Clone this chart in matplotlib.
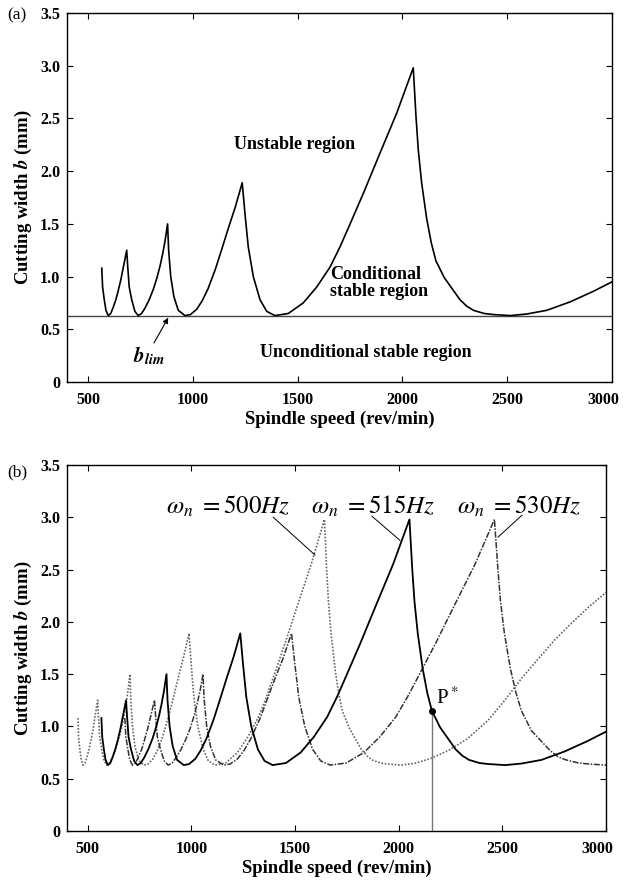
import matplotlib
matplotlib.use("Agg")
import matplotlib.pyplot as plt
import matplotlib.transforms as mtransforms
from matplotlib.ticker import FuncFormatter

plt.rcParams['font.family'] = ['Liberation Serif', 'DejaVu Serif']
plt.rcParams['mathtext.fontset'] = 'stix'

# 515 Hz lobes (spindle speed rev/min, cutting width mm)
speed_515 = [566, 570, 578, 586, 597, 609, 621, 633, 645, 657, 669, 685,
             690, 697, 709, 724, 740, 756, 772, 792, 812, 828, 844, 856, 868, 880,
             885, 895, 910, 931, 963, 989, 1019, 1045, 1072, 1091, 1108, 1137, 1170, 1203, 1236,
             1249, 1265, 1289, 1321, 1353, 1392, 1456, 1527, 1591, 1655, 1702, 1742, 1814, 1893, 1973, 2052,
             2065, 2076, 2092, 2116, 2138, 2160, 2200, 2243, 2275, 2307, 2339, 2390, 2434, 2514,
             2593, 2689, 2800, 2911, 3000]
width_515 = [1.08, 0.90, 0.78, 0.68, 0.63, 0.65, 0.71, 0.78, 0.87, 0.97, 1.09, 1.25,
             1.09, 0.90, 0.78, 0.67, 0.63, 0.65, 0.70, 0.78, 0.88, 0.98, 1.10, 1.21, 1.34, 1.50,
             1.25, 1.00, 0.81, 0.68, 0.63, 0.64, 0.69, 0.77, 0.88, 0.98, 1.07, 1.25, 1.46, 1.66, 1.89,
             1.60, 1.28, 1.00, 0.78, 0.67, 0.63, 0.65, 0.75, 0.90, 1.09, 1.28, 1.46, 1.79, 2.17, 2.55, 2.98,
             2.52, 2.20, 1.89, 1.55, 1.32, 1.15, 0.99, 0.87, 0.78, 0.72, 0.68, 0.65, 0.64, 0.63,
             0.645, 0.68, 0.76, 0.86, 0.95]

# 500 Hz lobes
speed_500 = [453, 456, 462, 469, 478, 487, 497, 506, 516, 526, 535, 548,
             552, 558, 567, 579, 592, 605, 618, 634, 650, 662, 675, 685, 694, 704,
             708, 716, 728, 745, 770, 791, 815, 836, 858, 873, 886, 910, 936, 962, 989,
             999, 1012, 1031, 1057, 1082, 1114, 1165, 1222, 1273, 1324, 1362, 1394, 1451, 1514, 1578, 1642,
             1652, 1661, 1674, 1693, 1710, 1728, 1760, 1794, 1820, 1846, 1871, 1912, 1947, 2011,
             2074, 2151, 2240, 2330, 2432, 2512, 2593, 2675, 2754, 2835, 2915, 3000]
width_500 = [1.08, 0.90, 0.78, 0.68, 0.63, 0.65, 0.71, 0.78, 0.87, 0.97, 1.09, 1.25,
             1.09, 0.90, 0.78, 0.67, 0.63, 0.65, 0.70, 0.78, 0.88, 0.98, 1.10, 1.21, 1.34, 1.50,
             1.25, 1.00, 0.81, 0.68, 0.63, 0.64, 0.69, 0.77, 0.88, 0.98, 1.07, 1.25, 1.46, 1.66, 1.89,
             1.60, 1.28, 1.00, 0.78, 0.67, 0.63, 0.65, 0.75, 0.90, 1.09, 1.28, 1.46, 1.79, 2.17, 2.55, 2.98,
             2.52, 2.20, 1.89, 1.55, 1.32, 1.15, 0.99, 0.87, 0.78, 0.72, 0.68, 0.65, 0.64, 0.63,
             0.645, 0.69, 0.77, 0.88, 1.06, 1.25, 1.46, 1.65, 1.83, 1.99, 2.14, 2.28]

# 530 Hz lobes
speed_530 = [679, 684, 694, 703, 716, 731, 745, 760, 774, 788, 803, 822,
             828, 836, 851, 869, 888, 907, 926, 950, 974, 994, 1013, 1027, 1042, 1056,
             1062, 1074, 1092, 1117, 1156, 1187, 1223, 1254, 1286, 1309, 1330, 1364, 1404, 1444, 1483,
             1499, 1518, 1547, 1585, 1624, 1670, 1747, 1832, 1909, 1986, 2042, 2090, 2177, 2272, 2368, 2462,
             2478, 2491, 2510, 2539, 2566, 2592, 2640, 2692, 2730, 2768, 2807, 2868, 2921, 3000]
width_530 = [1.08, 0.90, 0.78, 0.68, 0.63, 0.65, 0.71, 0.78, 0.87, 0.97, 1.09, 1.25,
             1.09, 0.90, 0.78, 0.67, 0.63, 0.65, 0.70, 0.78, 0.88, 0.98, 1.10, 1.21, 1.34, 1.50,
             1.25, 1.00, 0.81, 0.68, 0.63, 0.64, 0.69, 0.77, 0.88, 0.98, 1.07, 1.25, 1.46, 1.66, 1.89,
             1.60, 1.28, 1.00, 0.78, 0.67, 0.63, 0.65, 0.75, 0.90, 1.09, 1.28, 1.46, 1.79, 2.17, 2.55, 2.98,
             2.52, 2.20, 1.89, 1.55, 1.32, 1.15, 0.96, 0.85, 0.77, 0.71, 0.68, 0.65, 0.64, 0.63]

b_lim = 0.625
p_star = (2160, 1.15)
x_ticks = [500, 1000, 1500, 2000, 2500, 3000]
y_ticks = [0, 0.5, 1.0, 1.5, 2.0, 2.5, 3.0, 3.5]


def style_axes(ax):
    ax.set_xlim(400, 3000)
    ax.set_ylim(0, 3.5)
    ax.set_xticks(x_ticks)
    ax.set_yticks(y_ticks)
    ax.yaxis.set_major_formatter(FuncFormatter(lambda v, p: '0' if v == 0 else f'{v:.1f}'))
    ax.tick_params(direction='in', top=True, right=True, length=4, width=0.8, labelsize=11.5)
    ax.tick_params(axis='x', pad=7)
    ax.tick_params(axis='y', pad=5)
    labels = ax.get_xticklabels()
    for lab in labels + ax.get_yticklabels():
        lab.set_fontweight('bold')
    # last speed label sits a little inside the frame, as in the original
    shift = mtransforms.ScaledTranslation(-9 / 100, 0, ax.figure.dpi_scale_trans)
    labels[-1].set_transform(labels[-1].get_transform() + shift)
    for s in ax.spines.values():
        s.set_linewidth(1.0)
    ax.set_xlabel('Spindle speed (rev/min)', fontsize=13.5, fontweight='bold', labelpad=2)
    ax.set_ylabel(r'Cutting width $\mathbfit{b}$ (mm)', fontsize=13.5, fontweight='bold', labelpad=4)


fig = plt.figure(figsize=(6.23, 8.80), dpi=100)
ax1 = fig.add_axes([0.1075, 0.5659, 0.8748, 0.4193])
ax2 = fig.add_axes([0.1075, 0.0557, 0.8652, 0.4159])

# (a)
ax1.axhline(b_lim, color='#444444', lw=1.0)
ax1.plot(speed_515, width_515, color='black', lw=1.2)
style_axes(ax1)
ax1.text(1488, 2.25, 'Unstable region', fontsize=13, fontweight='bold', ha='center', va='center')
ax1.text(1655, 0.94, 'Conditional\nstable region', fontsize=13, fontweight='bold',
         ha='left', va='center', linespacing=1.05)
ax1.text(1827, 0.28, 'Unconditional stable region', fontsize=13, fontweight='bold',
         ha='center', va='center')
ax1.text(791, 0.25, r'$\mathbfit{b}_{\mathbfit{lim}}$', fontsize=15, ha='center', va='center')
ax1.annotate('', xy=(883, 0.61), xytext=(815, 0.37),
             arrowprops=dict(arrowstyle='-|>', color='black', lw=0.8, mutation_scale=8,
                             shrinkA=0, shrinkB=0))
fig.text(0.012, 0.983, '(a)', fontsize=12.5, va='center', ha='left')

# (b)
ax2.plot(speed_500, width_500, color='#666666', lw=1.2, linestyle=(0, (1, 1)))
ax2.plot(speed_530, width_530, color='#333333', lw=1.1, linestyle=(0, (4, 1, 1, 1)))
ax2.plot(speed_515, width_515, color='black', lw=1.3)
ax2.plot([p_star[0], p_star[0]], [0, p_star[1]], color='#777777', lw=1.0)
ax2.plot(p_star[0], p_star[1], 'o', color='black', ms=4)
ax2.text(p_star[0] + 20, p_star[1] + 0.02, r'P$^*$', fontsize=15, ha='left', va='bottom')
style_axes(ax2)

labels_b = [(r'$\omega_n\ = 500Hz$', 1177, 3.1, (1395, 3.0), (1596, 2.64)),
            (r'$\omega_n\ = 515Hz$', 1876, 3.1, (1871, 3.01), (2006, 2.78)),
            (r'$\omega_n\ = 530Hz$', 2580, 3.1, (2595, 3.02), (2479, 2.81))]
for txt, tx, ty, p0, p1 in labels_b:
    ax2.text(tx, ty, txt, fontsize=18, ha='center', va='center')
    ax2.plot([p0[0], p1[0]], [p0[1], p1[1]], color='black', lw=0.7)
fig.text(0.012, 0.4636, '(b)', fontsize=12.5, va='center', ha='left')

fig.savefig('out.png', dpi=100)
